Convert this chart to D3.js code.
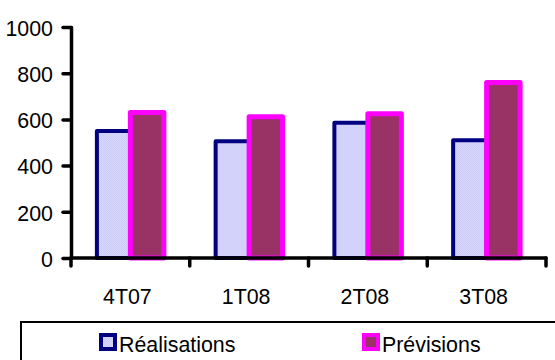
<!DOCTYPE html>
<html>
<head>
<meta charset="utf-8">
<script src="https://cdn.jsdelivr.net/npm/d3@7"></script>
<style>
  html, body { margin: 0; padding: 0; background: #fff; }
  svg { display: block; font-family: "Liberation Sans", Arial, sans-serif; }
</style>
</head>
<body>
<svg id="chart" width="555" height="360"></svg>
<script>
// Quarterly figures: actuals vs. forecasts
const categories = ["4T07", "1T08", "2T08", "3T08"];
const realisations = [550, 505, 585, 510];
const previsions = [630, 612, 625, 760];
const yTicks = [0, 200, 400, 600, 800, 1000];
const seriesNames = ["Réalisations", "Prévisions"];

const svg = d3.select("#chart");
const FONT = 23, SX = 0.93;
const FAMILY = "Liberation Sans, Arial, sans-serif";

// Dithered lavender fill used by the "Réalisations" bars
const defs = svg.append("defs");
const pat = defs.append("pattern")
  .attr("id", "lav").attr("width", 2).attr("height", 2)
  .attr("patternUnits", "userSpaceOnUse");
pat.append("rect").attr("width", 2).attr("height", 2).attr("fill", "#c9c9f7");
pat.append("rect").attr("width", 1).attr("height", 1).attr("fill", "#dadaff");
pat.append("rect").attr("x", 1).attr("y", 1).attr("width", 1).attr("height", 1).attr("fill", "#dadaff");

const styles = [
  { fill: "url(#lav)", stroke: "#000080", sw: 4 },
  { fill: "#993366", stroke: "#ff00ff", sw: 5 }
];

const x0 = d3.scaleBand().domain(categories).range([71, 546])
  .paddingInner(0.436).paddingOuter(0.218);
const x1 = d3.scaleBand().domain(seriesNames).range([0, x0.bandwidth()]);
const y = d3.scaleLinear().domain([0, 1000]).range([258, 27]);

const rows = categories.map((c, i) => ({ cat: c, vals: [realisations[i], previsions[i]] }));

// Bars
const groups = svg.append("g").selectAll("g").data(rows).join("g")
  .attr("transform", d => `translate(${x0(d.cat)},0)`);
groups.selectAll("rect")
  .data(d => d.vals.map((v, k) => ({ v, k })))
  .join("rect")
  .attr("x", d => x1(seriesNames[d.k]))
  .attr("width", x1.bandwidth())
  .attr("y", d => y(d.v))
  .attr("height", d => y(0) - y(d.v))
  .attr("fill", d => styles[d.k].fill)
  .attr("stroke", d => styles[d.k].stroke)
  .attr("stroke-width", d => styles[d.k].sw)
  .attr("stroke-linejoin", "round");

// Y axis
const yAxis = svg.append("g").attr("transform", "translate(71,0)")
  .call(d3.axisLeft(y).tickValues(yTicks).tickFormat(d3.format("d"))
    .tickSizeInner(8).tickSizeOuter(0));
yAxis.selectAll("path, line").attr("stroke", "#000").attr("stroke-width", 3.5).attr("stroke-linecap", "round");
yAxis.selectAll("text")
  .attr("x", null).attr("dy", null)
  .attr("transform", `translate(-18,8.3) scale(${SX},1)`)
  .attr("font-size", FONT).attr("font-family", FAMILY)
  .attr("fill", "#000").attr("text-anchor", "end");

// X axis: baseline with ticks at category boundaries, labels at category centres
const xAxis = svg.append("g").attr("transform", `translate(0,${y(0)})`);
const bounds = d3.range(categories.length + 1).map(i => x0.range()[0] + i * x0.step());
xAxis.append("line").attr("x1", bounds[0]).attr("x2", bounds[bounds.length - 1])
  .attr("stroke", "#000").attr("stroke-width", 3.5).attr("stroke-linecap", "round");
xAxis.selectAll("line.tk").data(bounds).join("line").attr("class", "tk")
  .attr("x1", d => d).attr("x2", d => d).attr("y1", 0).attr("y2", 8)
  .attr("stroke", "#000").attr("stroke-width", 3.5).attr("stroke-linecap", "round");
const labelAxis = svg.append("g").attr("transform", `translate(0,${y(0)})`)
  .call(d3.axisBottom(x0).tickSize(0));
labelAxis.select(".domain").remove();
labelAxis.selectAll("text")
  .attr("y", null).attr("dy", null)
  .attr("transform", `translate(-3,46) scale(${SX},1)`)
  .attr("font-size", FONT).attr("font-family", FAMILY)
  .attr("fill", "#000");

// Legend
svg.append("rect").attr("x", 21).attr("y", 322).attr("width", 560).attr("height", 60)
  .attr("fill", "#fff").attr("stroke", "#000").attr("stroke-width", 2);
const legendX = [99, 362];
const leg = svg.append("g").selectAll("g").data(seriesNames).join("g")
  .attr("transform", (d, i) => `translate(${legendX[i]},333)`);
leg.append("rect").attr("x", 2).attr("y", 2).attr("width", 14).attr("height", 14)
  .attr("fill", (d, i) => styles[i].fill).attr("stroke", (d, i) => styles[i].stroke)
  .attr("stroke-width", 4);
leg.append("text").text(d => d)
  .attr("transform", `translate(20,18.5) scale(${SX},1)`)
  .attr("font-size", FONT).attr("font-family", FAMILY).attr("fill", "#000");
</script>
</body>
</html>
